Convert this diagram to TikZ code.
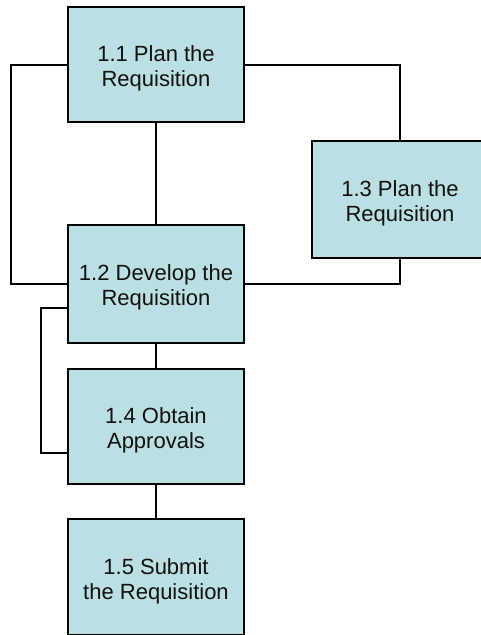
\documentclass[tikz,border=0pt]{standalone}
\usepackage{fontspec}
\setmainfont{Liberation Sans}
\definecolor{boxfill}{HTML}{BBE0E3}
\definecolor{boxtext}{HTML}{111111}
\begin{document}
\begin{tikzpicture}[x=1pt,y=-1pt,
  task/.style={draw=black, line width=2pt, fill=boxfill,
    minimum width=176pt, inner sep=0pt},
  tasktext/.style={text=boxtext, align=center, inner sep=0pt, yshift=-4pt,
    font=\fontsize{22pt}{25pt}\selectfont},
  link/.style={draw=black, line width=2pt}]
  \useasboundingbox (0,0) rectangle (480,635);
  % work-breakdown boxes, captions set slightly below centre
  \node[task, minimum height=115pt,
    label={[tasktext]center:{1.1 Plan the\\Requisition}}] (b11) at (156,64.5) {};
  \node[task, minimum height=118pt,
    label={[tasktext, yshift=1pt]center:{1.2 Develop the\\Requisition}}] (b12) at (156,284) {};
  \node[task, minimum height=117pt,
    label={[tasktext]center:{1.3 Plan the\\Requisition}}] (b13) at (400,199.5) {};
  \node[task, minimum height=115pt,
    label={[tasktext]center:{1.4 Obtain\\Approvals}}] (b14) at (156,426.5) {};
  \node[task, minimum height=116pt,
    label={[tasktext]center:{1.5 Submit\\the Requisition}}] (b15) at (156,577) {};
  % connectors
  \draw[link] (b11.south) -- (b12.north);
  \draw[link] (b11.west) -- ++(-56,0) |- (b12.west);
  \draw[link] (b11.east) -| (b13.north);
  \draw[link] (b13.south) |- (b12.east);
  \draw[link] ([yshift=-24pt]b12.west) -- ++(-26,0) |- ([yshift=-26.5pt]b14.west);
  \draw[link] (b12.south) -- (b14.north);
  \draw[link] (b14.south) -- (b15.north);
\end{tikzpicture}
\end{document}
